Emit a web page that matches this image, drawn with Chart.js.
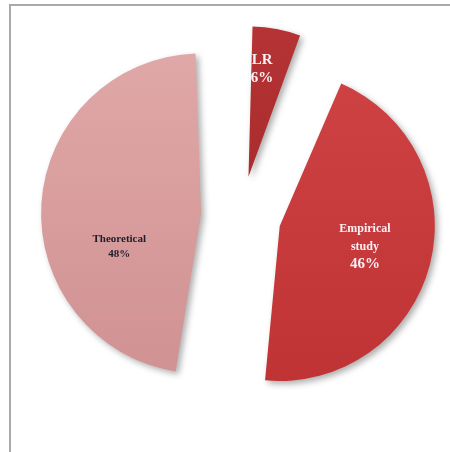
<!DOCTYPE html>
<html>
<head>
<meta charset="utf-8">
<script src="https://cdn.jsdelivr.net/npm/chart.js@4.4.1/dist/chart.umd.min.js"></script>
<style>
    html, body { margin: 0; padding: 0; background: #fff; overflow: hidden; }
    #wrap { position: relative; width: 450px; height: 452px; }
    #frame {
        position: absolute; left: 9px; top: 4px; width: 480px; height: 480px;
        border: 2px solid #a9a9a9; box-sizing: border-box;
    }
    #chartBox { position: absolute; left: 0; top: 0; width: 450px; height: 452px; }
</style>
</head>
<body>
<div id="wrap">
    <div id="frame"></div>
    <div id="chartBox"><canvas id="pieChart"></canvas></div>
</div>
<script>
// ========================================
// DATA
// ========================================

const categories = ['LR', 'Empirical study', 'Theoretical'];
const shares = [6, 46, 48];
const sliceTop = ['#B83536', '#D04446', '#E2AAAA'];
const sliceBottom = ['#9E2527', '#BE3234', '#CF9090'];
const labelColors = ['#FBF0F6', '#FBF0F6', '#1C1C2C'];

// ========================================
// PLUGINS
// ========================================

// Soft drop shadow under the slices
const shadowPlugin = {
    id: 'sliceShadow',
    beforeDatasetsDraw(chart) {
        const ctx = chart.ctx;
        ctx.save();
        ctx.shadowColor = 'rgba(0,0,0,0.32)';
        ctx.shadowBlur = 6;
        ctx.shadowOffsetX = 3;
        ctx.shadowOffsetY = 3;
    },
    afterDatasetsDraw(chart) {
        chart.ctx.restore();
    }
};

// Category name + percent written inside each slice
const sliceLabels = {
    id: 'sliceLabels',
    afterDatasetsDraw(chart) {
        const { ctx } = chart;
        const meta = chart.getDatasetMeta(0);
        // distance from the slice tip and a small nudge (Excel best fit look)
        const place = [
            { d: 110, dx: -7, dy: 0 },
            { d: 90, dx: -2, dy: -2 },
            { d: 90, dx: 8, dy: 38 }
        ];
        ctx.save();
        ctx.textAlign = 'center';
        ctx.textBaseline = 'middle';
        meta.data.forEach((arc, i) => {
            const p = arc.getProps(['x', 'y', 'startAngle', 'endAngle'], true);
            const mid = (p.startAngle + p.endAngle) / 2;
            // Chart.js v4 moves an arc by offset / 4
            const d = arc.options.offset / 4 + place[i].d;
            const x = p.x + Math.cos(mid) * d + place[i].dx;
            const y = p.y + Math.sin(mid) * d + place[i].dy;

            ctx.fillStyle = labelColors[i];
            const pct = shares[i] + '%';
            if (i === 0) {
                ctx.font = 'bold 15px "Liberation Serif", serif';
                ctx.fillText(categories[i], x, y - 9);
                ctx.fillText(pct, x, y + 9);
            } else if (i === 1) {
                ctx.font = 'bold 12px "Liberation Serif", serif';
                ctx.fillText('Empirical', x, y - 17);
                ctx.fillText('study', x, y + 1);
                ctx.font = 'bold 15px "Liberation Serif", serif';
                ctx.fillText(pct, x, y + 18);
            } else {
                ctx.font = 'bold 11px "Liberation Serif", serif';
                ctx.fillText(categories[i], x, y - 7);
                ctx.fillText(pct, x, y + 8);
            }
        });
        ctx.restore();
    }
};

// vertical shading, light on top and darker below
function sliceFill(context) {
    const chart = context.chart;
    const i = context.dataIndex;
    if (!chart.chartArea) return sliceTop[i];
    const g = chart.ctx.createLinearGradient(0, 20, 0, 400);
    g.addColorStop(0, sliceTop[i]);
    g.addColorStop(1, sliceBottom[i]);
    return g;
}

// ========================================
// CHART
// ========================================

const ctx = document.getElementById('pieChart').getContext('2d');

new Chart(ctx, {
    type: 'pie',
    data: {
        labels: categories,
        datasets: [{
            data: shares,
            backgroundColor: sliceFill,
            borderWidth: 0,
            offset: 160,
            hoverOffset: 160
        }]
    },
    options: {
        responsive: true,
        maintainAspectRatio: false,
        animation: false,
        // the offset also widens each arc by ~25-35px
        radius: 125,
        layout: {
            padding: { left: 32, right: 0, top: 0, bottom: 20 }
        },
        plugins: {
            legend: { display: false },
            tooltip: { enabled: false }
        }
    },
    plugins: [shadowPlugin, sliceLabels]
});
</script>
</body>
</html>
